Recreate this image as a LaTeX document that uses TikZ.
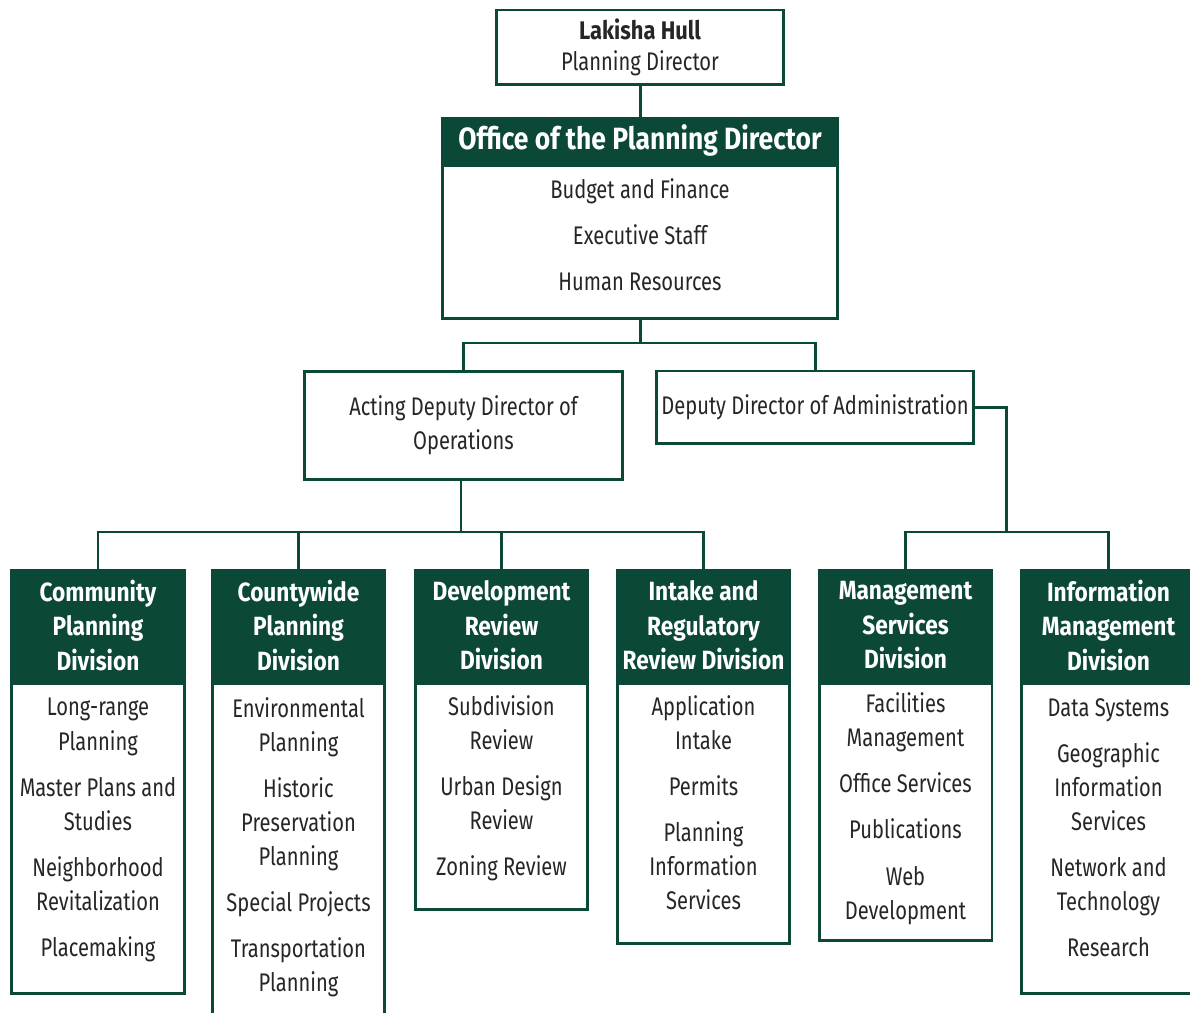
\documentclass[tikz,border=0pt]{standalone}
\usepackage{fontspec}
\setmainfont{Fira Sans}[FakeStretch=0.79]
\newfontfamily\headfont{Fira Sans}[FakeStretch=0.86]
\usepackage{tikz}
\pgfdeclarelayer{bg}
\pgfsetlayers{bg,main}
\definecolor{orggreen}{RGB}{12,72,56}
\tikzset{
  box/.style={draw=orggreen, line width=1.7pt, fill=white, align=center, inner sep=0pt, text=black!85},
  head/.style={box, fill=orggreen, text=white, font=\headfont\bfseries\fontsize{15}{19.6}\selectfont},
  item/.style={box, font=\fontsize{14.5}{19.4}\selectfont},
  list/.style={item, anchor=north, text depth=0.46cm},
  link/.style={draw=orggreen, line width=1.7pt},
}
\newcommand{\itemgap}{\\[0.24cm]}

\begin{document}
\begin{tikzpicture}[x=0.02cm, y=-0.02cm]
        \useasboundingbox (0,0) rectangle (1190,1013);
        \clip (0,0) rectangle (1190,1013);
        % director and office
        \node (lead) [box, minimum width=5.76cm, minimum height=1.5cm, font=\fontsize{14.5}{17.6}\selectfont] at (640,47.5) {{\headfont\bfseries Lakisha Hull}\\Planning Director};
        \node (officehd) [head, minimum width=7.9cm, minimum height=0.9cm, font=\headfont\bfseries\fontsize{17.5}{20}\selectfont] at (640,140.5) {Office of the Planning Director};
        \node (office) [list, text depth=0.3cm, minimum width=7.9cm, minimum height=3.06cm] at (officehd.south) {Budget and Finance\itemgap Executive Staff\itemgap Human Resources};
        % deputies
        \node (ops) [item, minimum width=6.38cm, minimum height=2.18cm] at (463.5,425.5) {Acting Deputy Director of\\Operations};
        \node (admin) [item, minimum width=6.36cm, minimum height=1.46cm] at (815,407.5) {Deputy Director of Administration};
        % divisions
        \node (commhd) [head, minimum width=3.48cm, minimum height=2.22cm] at (98,625.5) {Community\\Planning\\Division};
        \node (comm) [list, minimum width=3.48cm, minimum height=6.2cm] at (commhd.south) {Long-range\\Planning\itemgap Master Plans and\\Studies\itemgap Neighborhood\\Revitalization\itemgap Placemaking};
        \node (cntyhd) [head, minimum width=3.46cm, minimum height=2.22cm] at (298.5,625.5) {Countywide\\Planning\\Division};
        \node (cnty) [list, minimum width=3.46cm, minimum height=6.88cm] at (cntyhd.south) {Environmental\\Planning\itemgap Historic\\Preservation\\Planning\itemgap Special Projects\itemgap Transportation\\Planning};
        \node (devhd) [head, minimum width=3.46cm, minimum height=2.22cm] at (501.5,625.5) {Development\\Review\\Division};
        \node (dev) [list, minimum width=3.46cm, minimum height=4.52cm] at (devhd.south) {Subdivision\\Review\itemgap Urban Design\\Review\itemgap Zoning Review};
        \node (intkhd) [head, minimum width=3.46cm, minimum height=2.22cm] at (703.5,625.5) {Intake and\\Regulatory\\Review Division};
        \node (intk) [list, minimum width=3.46cm, minimum height=5.2cm] at (intkhd.south) {Application\\Intake\itemgap Permits\itemgap Planning\\Information\\Services};
        \node (mgmthd) [head, minimum width=3.46cm, minimum height=2.22cm] at (905.5,625.5) {Management\\Services\\Division};
        \node (mgmt) [list, text depth=0.26cm, minimum width=3.46cm, minimum height=5.14cm] at (mgmthd.south) {Facilities\\Management\itemgap Office Services\itemgap Publications\itemgap Web\\Development};
        \node (infohd) [head, minimum width=3.5cm, minimum height=2.22cm] at (1108.5,625.5) {Information\\Management\\Division};
        \node (info) [list, minimum width=3.5cm, minimum height=6.2cm] at (infohd.south) {Data Systems\itemgap Geographic\\Information\\Services\itemgap Network and\\Technology\itemgap Research};
        \coordinate (j1) at (640,343);
        \coordinate (j2) at (461,532);
        \coordinate (j3) at (1006,532);
        \begin{pgfonlayer}{bg}
                \draw [link] (lead) -- (officehd);
                \draw [link] (office.south) -- (j1);
                \draw [link] (ops.north) |- (j1) -| (admin.north);
                \draw [link] (ops.south -| j2) -- (j2);
                \draw [link] (commhd.north) |- (j2) -| (intkhd.north);
                \draw [link] (cntyhd.north) -- (cntyhd.north |- j2);
                \draw [link] (devhd.north) -- (devhd.north |- j2);
                \draw [link] (admin.east) -| (j3);
                \draw [link] (mgmthd.north) |- (j3) -| (infohd.north);
        \end{pgfonlayer}
\end{tikzpicture}
\end{document}
